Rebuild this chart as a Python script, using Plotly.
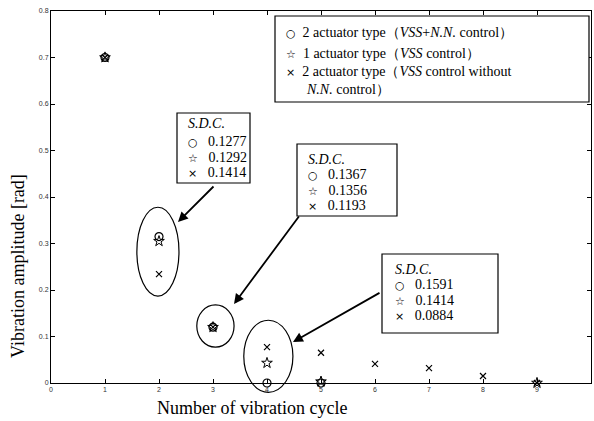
import plotly.graph_objects as go

# Vibration amplitude per cycle for the three control schemes
cycles_nn = [1, 2, 3, 4, 5]
amp_vss_nn = [0.70, 0.315, 0.12, 0.0, 0.0]

cycles_vss = [1, 2, 3, 4, 5, 9]
amp_vss = [0.70, 0.305, 0.12, 0.043, 0.003, 0.0]

cycles_no_nn = [1, 2, 3, 4, 5, 6, 7, 8, 9]
amp_no_nn = [0.70, 0.234, 0.12, 0.077, 0.065, 0.041, 0.032, 0.015, 0.0]

# Standard deviation coefficients quoted for cycles 2, 3 and 4
sdc_cycle2 = ["0.1277", "0.1292", "0.1414"]
sdc_cycle3 = ["0.1367", "0.1356", "0.1193"]
sdc_cycle4 = ["0.1591", "0.1414", "0.0884"]

x_ticks = list(range(0, 11))
y_ticks = [0, 0.1, 0.2, 0.3, 0.4, 0.5, 0.6, 0.7, 0.8]
y_tick_text = ["0", "0.1", "0.2", "0.3", "0.4", "0.5", "0.6", "0.7", "0.8"]

X_RANGE = (0, 10)
Y_RANGE = (0, 0.8)
W, H = 594, 421
ML, MR, MT, MB = 51, 3, 11, 38
PW, PH = W - ML - MR, H - MT - MB

SERIF = "Liberation Serif, Times New Roman, DejaVu Serif, serif"
SYM = '<span style="font-family:DejaVu Sans;font-size:{s}px">{c}</span>'


def xp(px):
    return (px - ML) / PW


def yp(py):
    return (H - MB - py) / PH


def dx(px):
    return X_RANGE[0] + (px - ML) / PW * (X_RANGE[1] - X_RANGE[0])


def dy(py):
    return Y_RANGE[0] + (H - MB - py) / PH * (Y_RANGE[1] - Y_RANGE[0])


def paper_x(v):
    return (v - X_RANGE[0]) / (X_RANGE[1] - X_RANGE[0])


def paper_y(v):
    return (v - Y_RANGE[0]) / (Y_RANGE[1] - Y_RANGE[0])


fig = go.Figure()
fig.add_trace(go.Scatter(x=cycles_nn, y=amp_vss_nn, mode="markers", cliponaxis=False,
                         marker=dict(symbol="circle-open", size=8, color="black",
                                     line=dict(width=1.2, color="black"))))
fig.add_trace(go.Scatter(x=cycles_vss, y=amp_vss, mode="markers", cliponaxis=False,
                         marker=dict(symbol="star-open", size=8, color="black",
                                     line=dict(width=1, color="black"))))
fig.add_trace(go.Scatter(x=cycles_no_nn, y=amp_no_nn, mode="markers", cliponaxis=False,
                         marker=dict(symbol="x-thin-open", size=6, color="black",
                                     line=dict(width=1.2, color="#222"))))

shapes = []
annotations = []

# Ellipses grouping the points of cycles 2, 3 and 4 (data units)
ellipses = [
    (1.59, 2.37, 0.187, 0.378),
    (2.70, 3.39, 0.077, 0.168),
    (3.57, 4.48, -0.02, 0.135),
]
for x0, x1, y0, y1 in ellipses:
    shapes.append(dict(type="circle", xref="paper", yref="paper",
                       x0=paper_x(x0), x1=paper_x(x1), y0=paper_y(y0), y1=paper_y(y1),
                       line=dict(color="black", width=1.2)))


def text_box(left, top, right, bottom):
    shapes.append(dict(type="rect", xref="paper", yref="paper",
                       x0=xp(left), x1=xp(right), y0=yp(bottom), y1=yp(top),
                       line=dict(color="black", width=1.2), fillcolor="white", layer="above"))


def line_text(x, y, text, size):
    annotations.append(dict(xref="paper", yref="paper", x=xp(x), y=yp(y), text=text,
                            showarrow=False, xanchor="left", yanchor="middle",
                            font=dict(family=SERIF, size=size, color="black")))


# Legend box
text_box(275, 16, 589, 102)
line_text(284, 33, SYM.format(s=11, c="○") + "&nbsp;&nbsp;2 actuator type（<i>VSS</i>+<i>N.N.</i> control）", 14)
line_text(284, 53, SYM.format(s=11, c="☆") + "&nbsp;&nbsp;1 actuator type（<i>VSS</i> control）", 14)
line_text(284, 72, SYM.format(s=11, c="×") + "&nbsp;&nbsp;2 actuator type（<i>VSS</i> control without", 14)
line_text(304, 89, "<i>N.N.</i> control）", 14)

# S.D.C. boxes
sdc_boxes = [
    ((177, 113, 250, 183), 186, [124, 141, 157, 173], sdc_cycle2),
    ((297, 144, 397, 216), 306, [159, 174, 190, 205], sdc_cycle3),
    ((382, 254, 498, 333), 393, [269, 284, 300, 315], sdc_cycle4),
]
marks = ["○", "☆", "×"]
for (l, t, r, b), tx, rows, vals in sdc_boxes:
    text_box(l, t, r, b)
    line_text(tx, rows[0], "<i>S.D.C.</i>", 14)
    for row, mk, v in zip(rows[1:], marks, vals):
        line_text(tx, row, SYM.format(s=11, c=mk) + f"&nbsp;&nbsp;&nbsp;{v}", 14)

# Arrows from the boxes to the ellipses
arrows = [
    ((215, 185), (178, 222)),
    ((300, 215), (234, 304)),
    ((381, 292), (293, 342)),
]
for (tx, ty), (hx, hy) in arrows:
    annotations.append(dict(xref="x", yref="y", axref="x", ayref="y",
                            x=dx(hx), y=dy(hy), ax=dx(tx), ay=dy(ty), text="",
                            showarrow=True, arrowhead=2, arrowsize=1.1, arrowwidth=1.8,
                            arrowcolor="black"))

# Axis titles
annotations.append(dict(xref="paper", yref="paper", x=xp(18), y=yp(266), text="Vibration amplitude [rad]",
                        textangle=-90, showarrow=False, xanchor="center", yanchor="middle",
                        font=dict(family=SERIF, size=18, color="black")))
annotations.append(dict(xref="paper", yref="paper", x=xp(252), y=yp(408), text="Number of vibration cycle",
                        showarrow=False, xanchor="center", yanchor="middle",
                        font=dict(family=SERIF, size=18, color="black")))

axis_common = dict(showline=True, linecolor="black", linewidth=1, mirror="ticks",
                   ticks="inside", ticklen=4, tickcolor="black", showgrid=False, zeroline=False,
                   tickfont=dict(family="Liberation Sans, Arial, sans-serif", size=7, color="#333"))

fig.update_layout(
    width=W, height=H,
    margin=dict(l=ML, r=MR, t=MT, b=MB),
    paper_bgcolor="white", plot_bgcolor="white",
    showlegend=False,
    shapes=shapes, annotations=annotations,
    xaxis=dict(range=list(X_RANGE), tickvals=x_ticks, ticktext=[str(v) for v in x_ticks], **axis_common),
    yaxis=dict(range=list(Y_RANGE), tickvals=y_ticks, ticktext=y_tick_text, **axis_common),
)

fig.write_html("out.html")
